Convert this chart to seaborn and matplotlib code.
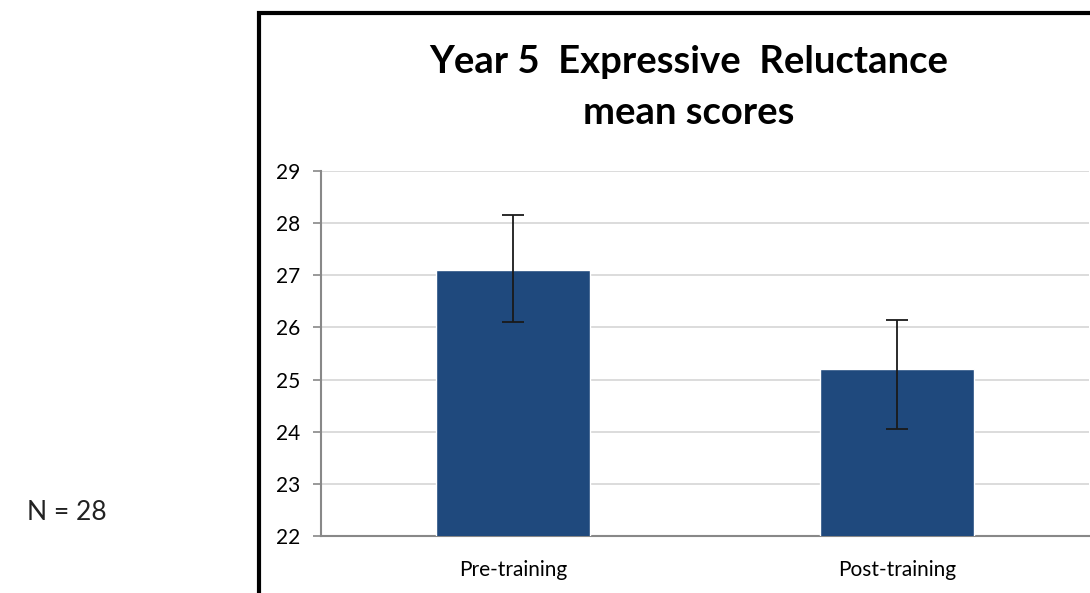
import matplotlib
matplotlib.use("Agg")
import matplotlib.pyplot as plt
import seaborn as sns
import pandas as pd
import numpy as np
from matplotlib.patches import Rectangle

categories = ["Pre-training", "Post-training"]
means = [27.1, 25.2]
err_upper = [28.15, 26.15]
err_lower = [26.1, 24.05]
y_ticks = [22, 23, 24, 25, 26, 27, 28, 29]
title_lines = ["Year 5  Expressive  Reluctance", "mean scores"]
note_text = "N = 28"

sns.set_theme(style="white")
plt.rcParams["font.family"] = ["Lato", "DejaVu Sans"]

fig = plt.figure(figsize=(10.9, 5.93), dpi=100)
ax = fig.add_axes([321 / 1090, 57 / 593, 768 / 1090, 365 / 593])

df = pd.DataFrame({"cat": categories, "mean": means})
sns.barplot(data=df, x="cat", y="mean", ax=ax, color="#1f497d", width=0.4,
            saturation=1, errorbar=None, zorder=3)

m = np.array(means)
yerr = np.vstack([m - np.array(err_lower), np.array(err_upper) - m])
ax.errorbar(np.arange(len(categories)), m, yerr=yerr, fmt="none",
            ecolor="#1a1a1a", elinewidth=1.3, capsize=8, capthick=1.3, zorder=4)

ax.set_xlim(-0.5, len(categories) - 0.5)
ax.set_ylim(22, 29)
ax.set_yticks(y_ticks)
ax.set_yticklabels([str(t) for t in y_ticks], fontsize=15)
ax.set_xticks(range(len(categories)))
ax.set_xticklabels(categories, fontsize=15)
ax.set_xticks(np.arange(-0.5, len(categories), 1.0), minor=True)
ax.tick_params(axis="x", which="major", length=0, pad=17, colors="black")
ax.tick_params(axis="x", which="minor", length=6, width=1.2, color="#888888", direction="out")
ax.tick_params(axis="y", which="major", length=6, width=1.2, color="#888888",
               direction="out", left=True, pad=9, labelcolor="black")
ax.set_xlabel("")
ax.set_ylabel("")

ax.yaxis.grid(True, color="#d9d9d9", linewidth=1.3, zorder=0)
ax.set_axisbelow(True)
for s in ["top", "right"]:
    ax.spines[s].set_visible(False)
for s in ["left", "bottom"]:
    ax.spines[s].set_color("#888888")
    ax.spines[s].set_linewidth(1.5)

for line, ypix in zip(title_lines, [62, 113]):
    fig.text(689 / 1090, 1 - ypix / 593, line, ha="center", va="center",
             fontsize=27.5, fontweight="bold", color="black")
fig.text(27 / 1090, 1 - 512 / 593, note_text, ha="left", va="center",
         fontsize=19, color="#222222")

frame = Rectangle((259 / 1090, -0.05), 1.0, 1 - 13 / 593 + 0.05,
                  transform=fig.transFigure, fill=False, edgecolor="black",
                  linewidth=3, clip_on=False)
fig.patches.append(frame)

fig.savefig("out.png", dpi=100)
